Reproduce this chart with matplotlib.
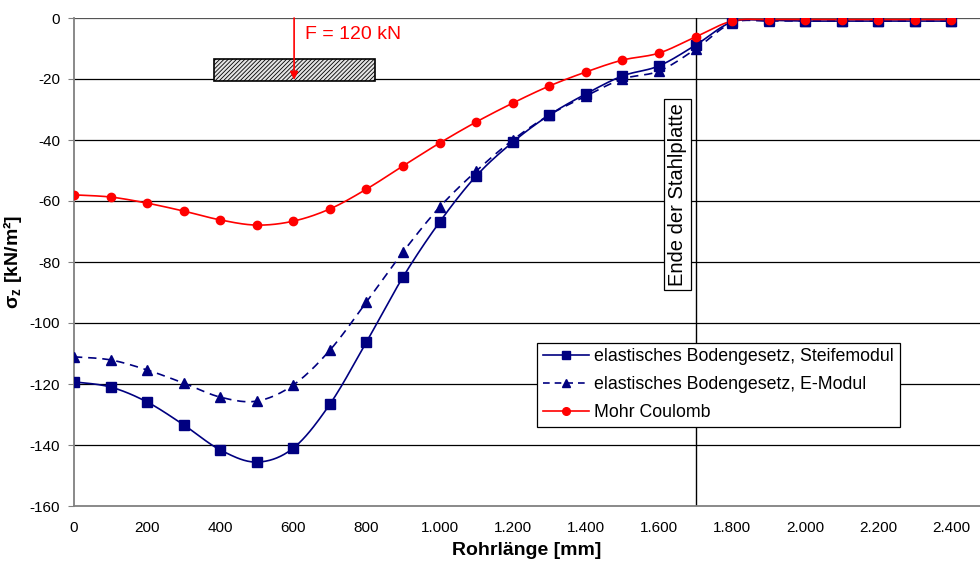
import numpy as np
import matplotlib
matplotlib.use("Agg")
import matplotlib.pyplot as plt
from matplotlib.patches import Rectangle
from matplotlib.lines import Line2D
from matplotlib.ticker import FuncFormatter, MultipleLocator
from matplotlib import font_manager

x_mm = [0, 100, 200, 300, 400, 500, 600, 700, 800, 900, 1000, 1100, 1200,
        1300, 1400, 1500, 1600, 1700, 1800, 1900, 2000, 2100, 2200, 2300, 2400]
steife = [-119.3, -121.0, -125.9, -133.4, -141.6, -145.6, -141.0, -126.6, -106.2,
          -84.9, -66.9, -51.8, -40.7, -31.8, -24.9, -19.0, -15.7, -8.9, -1.3,
          -0.8, -1.0, -1.0, -1.0, -1.0, -1.0]
emodul = [-111.1, -112.1, -115.4, -119.7, -124.3, -125.6, -120.3, -108.9, -93.1,
          -76.7, -62.0, -50.2, -40.0, -31.8, -25.6, -20.0, -17.4, -10.2, -1.6,
          -1.0, -1.0, -1.0, -1.0, -1.0, -1.0]
mohr = [-58.0, -58.7, -60.7, -63.3, -66.2, -67.9, -66.6, -62.6, -56.1, -48.5,
        -41.0, -34.1, -27.9, -22.3, -17.7, -13.8, -11.5, -6.2, -1.0, -0.5,
        -0.5, -0.5, -0.5, -0.5, -0.5]
labels = ["elastisches Bodengesetz, Steifemodul",
          "elastisches Bodengesetz, E-Modul",
          "Mohr Coulomb"]
plate_x = [383, 823]
plate_y = [-20.7, -13.4]
force_x = 602
force_label = "F = 120 kN"
end_x = 1700
end_label = "Ende der Stahlplatte"

names = {f.name for f in font_manager.fontManager.ttflist}
narrow = "Liberation Sans Narrow" if "Liberation Sans Narrow" in names else "Liberation Sans"
plt.rcParams['font.family'] = ['Liberation Sans', 'DejaVu Sans']
plt.rcParams['hatch.color'] = '#555555'
plt.rcParams['hatch.linewidth'] = 0.6


def smooth(x, y, n=20):
    x = np.asarray(x, float); y = np.asarray(y, float)
    xs, ys = [], []
    for i in range(len(x) - 1):
        p0 = np.array([x[i - 1] if i > 0 else x[i], y[i - 1] if i > 0 else y[i]])
        p1 = np.array([x[i], y[i]])
        p2 = np.array([x[i + 1], y[i + 1]])
        p3 = np.array([x[i + 2] if i + 2 < len(x) else x[i + 1],
                       y[i + 2] if i + 2 < len(x) else y[i + 1]])
        t = np.linspace(0, 1, n, endpoint=False)[:, None]
        c = 0.5 * ((2 * p1) + (-p0 + p2) * t + (2 * p0 - 5 * p1 + 4 * p2 - p3) * t ** 2
                   + (-p0 + 3 * p1 - 3 * p2 + p3) * t ** 3)
        xs.extend(c[:, 0]); ys.extend(c[:, 1])
    xs.append(x[-1]); ys.append(y[-1])
    return np.array(xs), np.array(ys)


fig = plt.figure(figsize=(9.8, 5.65), dpi=100)
ax = fig.add_axes([74 / 980, 1 - 506 / 565, 1 - 74 / 980, 488 / 565])

navy = "#000080"
red = "#FF0000"

for yy in range(-140, 1, 20):
    ax.axhline(yy, color="black" if yy < 0 else "#555555", lw=0.9, zorder=1)

ax.axvline(end_x, color="black", lw=1.0, zorder=1)

sx, sy = smooth(x_mm, steife)
ax.plot(sx, sy, color=navy, lw=1.2, zorder=3)
ax.plot(x_mm, steife, ls="none", marker="s", ms=6.5, color=navy, zorder=4)
ex, ey = smooth(x_mm, emodul)
ax.plot(ex, ey, color=navy, lw=1.2, ls=(0, (5, 3.5)), zorder=3)
ax.plot(x_mm, emodul, ls="none", marker="^", ms=6.5, color=navy, zorder=4)
mx, my = smooth(x_mm, mohr)
ax.plot(mx, my, color=red, lw=1.2, zorder=3)
ax.plot(x_mm, mohr, ls="none", marker="o", ms=6, color=red, zorder=4)

handles = [Line2D([], [], color=navy, lw=1.2, marker="s", ms=6),
           Line2D([], [], color=navy, lw=1.2, ls=(0, (4, 3)), marker="^", ms=6),
           Line2D([], [], color=red, lw=1.2, marker="o", ms=5.5)]
leg = ax.legend(handles, labels, loc="upper left", bbox_to_anchor=(0.511, 0.335),
                frameon=True, fancybox=False, edgecolor="black", framealpha=1,
                fontsize=12.8, handlelength=2.6, handletextpad=0.3,
                borderpad=0.32, labelspacing=0.62, borderaxespad=0)
leg.get_frame().set_linewidth(0.9)
leg.set_zorder(6)

ax.add_patch(Rectangle((plate_x[0], plate_y[0]), plate_x[1] - plate_x[0],
                       plate_y[1] - plate_y[0], facecolor="#e4e4e4",
                       edgecolor="black", hatch="////////", lw=1.2, zorder=2))
ax.annotate("", xy=(force_x, plate_y[0] + 0.4), xytext=(force_x, 0),
            arrowprops=dict(arrowstyle="-|>", color=red, lw=1.2,
                            mutation_scale=12, shrinkA=0, shrinkB=0), zorder=5)
ax.text(force_x + 30, -5.5, force_label, color=red, fontsize=14, va="center",
        ha="left")

ax.text(1650, -58, end_label, rotation=90, fontsize=14.5, ha="center",
        va="center", zorder=5,
        bbox=dict(boxstyle="square,pad=0.2", facecolor="white",
                  edgecolor="black", lw=0.9))

ax.set_xlim(0, 2478)
ax.set_ylim(-160, 0)
ax.xaxis.set_major_locator(MultipleLocator(200))
ax.yaxis.set_major_locator(MultipleLocator(20))
ax.xaxis.set_major_formatter(FuncFormatter(
    lambda v, p: f"{int(round(v)):,}".replace(",", ".")))
ax.yaxis.set_major_formatter(FuncFormatter(lambda v, p: f"{int(round(v))}"))
for lab in ax.get_xticklabels():
    lab.set_fontfamily([narrow, 'DejaVu Sans'])
ax.tick_params(axis="x", labelsize=11, length=0, pad=11)
ax.tick_params(axis="y", labelsize=11, length=4, direction="out",
               color="#808080", pad=6)
for s in ["top", "right"]:
    ax.spines[s].set_visible(False)
ax.spines["left"].set_color("#808080")
ax.spines["left"].set_linewidth(1.3)
ax.spines["bottom"].set_color("#808080")
ax.spines["bottom"].set_linewidth(1.3)

ax.set_xlabel("Rohrlänge [mm]", fontsize=14, fontweight="bold",
              family=[narrow, 'DejaVu Sans'], labelpad=5)
ax.set_ylabel(r"σ$_\mathregular{z}$ [kN/m²]", fontsize=14, fontweight="bold",
              labelpad=4)

fig.savefig("out.png", dpi=100)
